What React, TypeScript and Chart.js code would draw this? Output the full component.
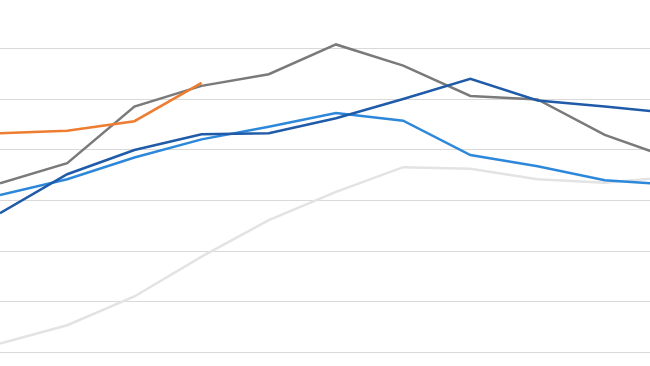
import React, { useEffect, useRef } from "react";
import { Chart, registerables } from "chart.js";

Chart.register(...registerables);

// Periods (x positions, one per category)
const PERIODS = [0, 1, 2, 3, 4, 5, 6, 7, 8, 9, 10];

// Series values
const ORANGE = [43.3, 43.8, 45.7, 53.3, null, null, null, null, null, null, null];
const DARK_BLUE = [27.5, 35.2, 40.0, 43.1, 43.3, 46.3, 50.1, 54.1, 49.8, 48.6, 47.3];
const LIGHT_BLUE = [31.1, 34.2, 38.5, 42.1, 44.6, 47.3, 45.8, 39.0, 36.8, 34.0, 33.1];
const GREY = [33.4, 37.4, 48.6, 52.7, 55.0, 60.9, 56.7, 50.7, 50.0, 43.0, 38.3];
const LIGHT_GREY = [1.7, 5.3, 11.0, 18.9, 26.1, 31.7, 36.6, 36.3, 34.2, 33.5, 34.7];

// Gridline tick values
const Y_TICKS = [0, 10, 20, 30, 40, 50, 60];

// Visible window
const X_MIN = 0;
const X_MAX = 9.673;
const Y_MIN = -2.77;
const Y_MAX = 69.7;

const toPoints = (vals: (number | null)[]) =>
  PERIODS.map((p, i) => ({ x: p, y: vals[i] }));

export default function App() {
  const ref = useRef<HTMLCanvasElement | null>(null);

  useEffect(() => {
    document.body.style.margin = "0";
    if (!ref.current) return;
    const mk = (label: string, vals: (number | null)[], color: string) => ({
      label,
      data: toPoints(vals),
      borderColor: color,
      backgroundColor: color,
      borderWidth: 2.5,
      pointRadius: 0,
      pointHoverRadius: 0,
      tension: 0,
      fill: false,
      spanGaps: false,
    });
    const chart = new Chart(ref.current, {
      type: "line",
      data: {
        datasets: [
          mk("Orange", ORANGE, "#ED7D31"),
          mk("Dark blue", DARK_BLUE, "#1F5BA8"),
          mk("Light blue", LIGHT_BLUE, "#2E88DA"),
          mk("Grey", GREY, "#7A7A7A"),
          mk("Light grey", LIGHT_GREY, "#E3E3E3"),
        ] as any,
      },
      options: {
        animation: false,
        responsive: false,
        maintainAspectRatio: false,
        layout: { padding: 0, autoPadding: false } as any,
        plugins: { legend: { display: false }, tooltip: { enabled: false } },
        scales: {
          x: {
            type: "linear",
            min: X_MIN,
            max: X_MAX,
            display: false,
          },
          y: {
            type: "linear",
            min: Y_MIN,
            max: Y_MAX,
            display: true,
            border: { display: false },
            ticks: { display: false },
            grid: { color: "#D9D9D9", lineWidth: 1, drawTicks: false, tickLength: 0 },
            afterBuildTicks: (scale: any) => {
              scale.ticks = Y_TICKS.map((v) => ({ value: v }));
            },
          },
        },
      },
    });
    return () => chart.destroy();
  }, []);

  return (
    <div style={{ position: "absolute", left: 0, top: 0, width: 650, height: 366, background: "#fff" }}>
      <canvas ref={ref} width={650} height={366} style={{ display: "block", width: 650, height: 366 }} />
    </div>
  );
}
